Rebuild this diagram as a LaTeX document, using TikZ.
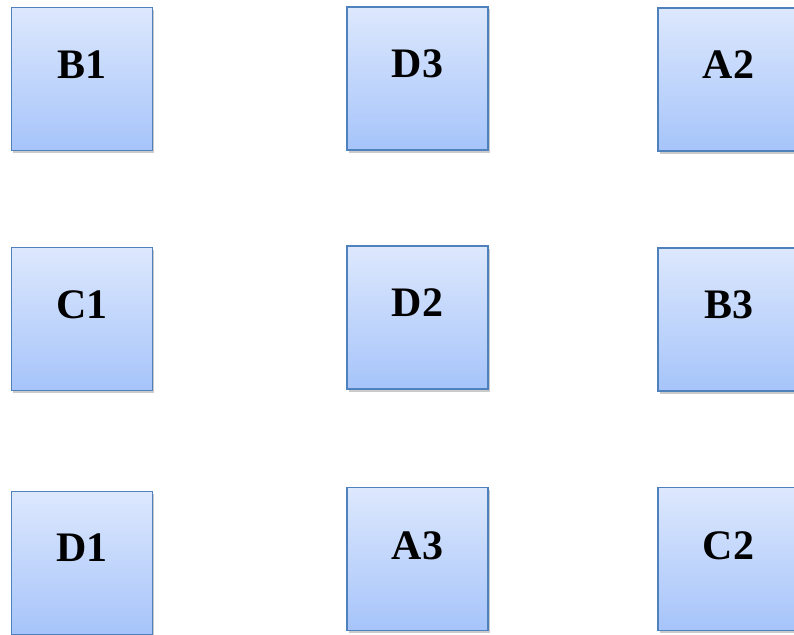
\documentclass[tikz,border=0pt]{standalone}
\usepackage{fontspec}
\setmainfont{Liberation Serif}
\usetikzlibrary{shadows}
\definecolor{boxtop}{HTML}{DDE8FD}
\definecolor{boxbot}{HTML}{A6C4FA}
\definecolor{boxline}{HTML}{4F81BD}
\tikzset{
  tile/.style={rectangle, draw=boxline, line width=1.6pt, top color=boxtop, bottom color=boxbot,
    minimum width=141pt, minimum height=143pt, inner sep=0pt,
    drop shadow={shadow xshift=1.5pt, shadow yshift=-2.5pt, opacity=0.35, fill=black!60}},
  tiletext/.style={font=\fontsize{42}{42}\selectfont\bfseries, inner sep=0pt, text=black}
}
\begin{document}
\begin{tikzpicture}[x=1pt,y=-1pt]
\useasboundingbox (0,0) rectangle (794,634);
% row 1
\node[tile] (b1) at (82,79) {};
\node[tiletext] (b1t) at (82,65) {B1};
\node[tile] (d3) at (417.5,78.5) {};
\node[tiletext] (d3t) at (417.5,64) {D3};
\node[tile] (a2) at (728.5,79.5) {};
\node[tiletext] (a2t) at (728.5,65) {A2};
% row 2
\node[tile] (c1) at (82,319) {};
\node[tiletext] (c1t) at (82,304.5) {C1};
\node[tile] (d2) at (417.5,317.5) {};
\node[tiletext] (d2t) at (417.5,303) {D2};
\node[tile] (b3) at (728.5,319.5) {};
\node[tiletext] (b3t) at (728.5,304.5) {B3};
% row 3
\node[tile] (d1) at (82,563) {};
\node[tiletext] (d1t) at (82,548) {D1};
\node[tile] (a3) at (417.5,559) {};
\node[tiletext] (a3t) at (417.5,546) {A3};
\node[tile] (c2) at (728.5,559) {};
\node[tiletext] (c2t) at (728.5,546) {C2};
\end{tikzpicture}
\end{document}
